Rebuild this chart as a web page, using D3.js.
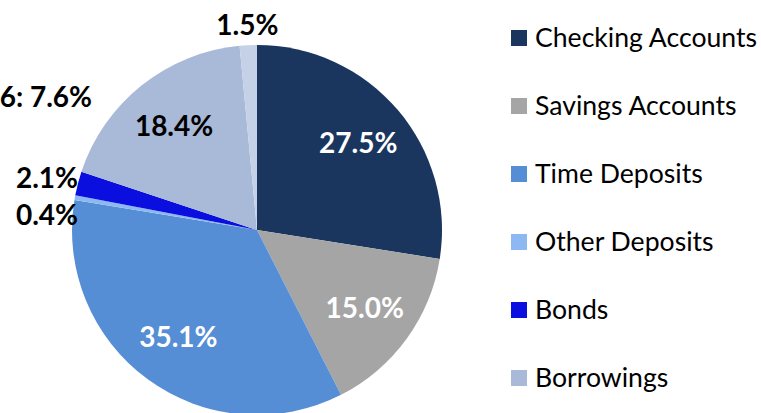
<!DOCTYPE html>
<html><head><meta charset="utf-8">
<script src="https://cdn.jsdelivr.net/npm/d3@7"></script>
<style>html,body{margin:0;padding:0;background:#fff;overflow:hidden}svg{display:block}</style>
</head><body>
<svg id="chart" width="761" height="413"></svg>
<script>
const categories = ["Checking Accounts","Savings Accounts","Time Deposits","Other Deposits","Bonds","Borrowings","Other"];
const values = [27.5, 15.0, 35.1, 0.4, 2.1, 18.4, 1.5];
const colors = ["#1a365e","#a5a5a5","#558ed5","#8db9f3","#0a0fe0","#a9b9d8","#c5d1e6"];
const labelInside = [true, true, true, false, false, true, false];
const labelColors = ["#ffffff","#ffffff","#ffffff","#000000","#000000","#000000","#000000"];
const legendItems = 6;
const strayLabel = "6: 7.6%";

const svg = d3.select("#chart");
const font = "Lato, 'Carlito', Calibri, sans-serif";
const cx = 257, cy = 230, r = 185;
const g = svg.append("g").attr("transform", `translate(${cx},${cy})`);
const pie = d3.pie().sort(null).value(d => d)(values);
const arc = d3.arc().innerRadius(0).outerRadius(r);
g.selectAll("path").data(pie).join("path")
  .attr("d", arc).attr("fill", (d,i) => colors[i]);

const fmt = v => v.toFixed(1) + "%";
const inArc = d3.arc().innerRadius(r*0.72).outerRadius(r*0.72);
const outR = r + 20;
const labels = pie.map((d,i) => {
  const a = (d.startAngle + d.endAngle)/2;
  if (labelInside[i]) { const c = inArc.centroid(d); return {i, x:c[0], y:c[1], anchor:"middle"}; }
  return {i, x: Math.sin(a)*outR, y: -Math.cos(a)*outR, anchor: "middle"};
});
// simple de-overlap for outside labels on the left
const left = labels.filter(l => !labelInside[l.i] && l.x < -50).sort((a,b)=>a.y-b.y);
for (let k=1;k<left.length;k++) if (left[k].y - left[k-1].y < 37) left[k].y = left[k-1].y + 37;
left.forEach(l => { l.x = -r - 25; });

g.selectAll("text.lab").data(labels).join("text").attr("class","lab")
  .attr("x", d => d.x).attr("y", d => d.y).attr("dy","0.35em")
  .attr("text-anchor", d => d.anchor)
  .attr("font-family", font).attr("font-weight", "bold").attr("font-size", 28)
  .attr("fill", d => labelColors[d.i])
  .text(d => fmt(values[d.i]));

svg.append("text").attr("x", 92).attr("y", 107).attr("text-anchor","end")
  .attr("font-family", font).attr("font-weight","bold").attr("font-size",28)
  .attr("fill","#000").text(strayLabel);

const lg = svg.append("g");
const ly = d3.scaleLinear().domain([0,1]).range([38, 106]);
const items = lg.selectAll("g").data(categories.slice(0, legendItems)).join("g")
  .attr("transform", (d,i) => `translate(511,${ly(i)})`);
items.append("rect").attr("x",0).attr("y",-8).attr("width",16).attr("height",16)
  .attr("fill", (d,i) => colors[i]);
items.append("text").attr("x",24).attr("y",0).attr("dy","0.35em")
  .attr("font-family", font).attr("font-size", 26.6).attr("fill","#000").text(d=>d);
</script>
</body></html>
